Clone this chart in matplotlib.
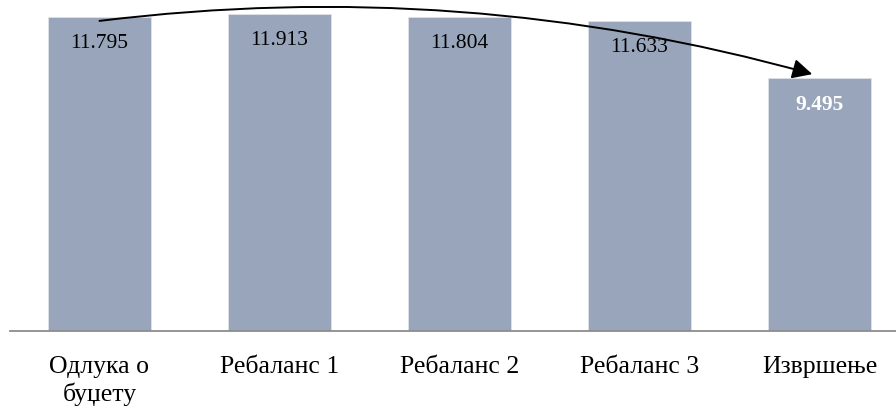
import matplotlib
matplotlib.use("Agg")
import matplotlib.pyplot as plt

categories = ["Одлука о\nбуџету", "Ребаланс 1", "Ребаланс 2", "Ребаланс 3", "Извршење"]
values = [11.795, 11.913, 11.804, 11.633, 9.495]
labels = ["11.795", "11.913", "11.804", "11.633", "9.495"]

plt.rcParams['font.family'] = ['Liberation Serif', 'DejaVu Serif']

fig = plt.figure(figsize=(8.96, 4.09), dpi=100)
ax = fig.add_axes([10/896, 78/409, 886/896, 331/409])

x = list(range(len(values)))
bar_color = "#98a5ba"
ax.bar(x, values, width=0.572, color=bar_color, edgecolor="#dfe3ea", linewidth=0.6, zorder=2)

ax.set_xlim(-0.497, 4.425)
ax.set_ylim(0, 12.43)

# value labels inside the bars
for i, (v, t) in enumerate(zip(values, labels)):
    last = i == len(values) - 1
    ax.text(i, v - 1.0, t, ha="center", va="center", fontsize=15.5,
            color="white" if last else "black",
            fontweight="bold" if last else "normal", zorder=3)

# curved arrow from first to last bar
ax.annotate("", xy=(len(values) - 1 - 0.04, values[-1] + 0.15),
            xytext=(0, values[0] - 0.15),
            arrowprops=dict(arrowstyle="-|>", color="black", lw=1.4,
                            mutation_scale=30,
                            connectionstyle="arc3,rad=-0.1",
                            shrinkA=0, shrinkB=0),
            zorder=4)

ax.set_xticks(x)
ax.set_xticklabels(categories, fontsize=18.5, linespacing=1.25)
ax.tick_params(axis="x", length=0, pad=18)
ax.set_yticks([])
for s in ["top", "right", "left"]:
    ax.spines[s].set_visible(False)
ax.spines["bottom"].set_color("#8c8c8c")
ax.spines["bottom"].set_linewidth(1.3)

fig.savefig("out.png", dpi=100)
